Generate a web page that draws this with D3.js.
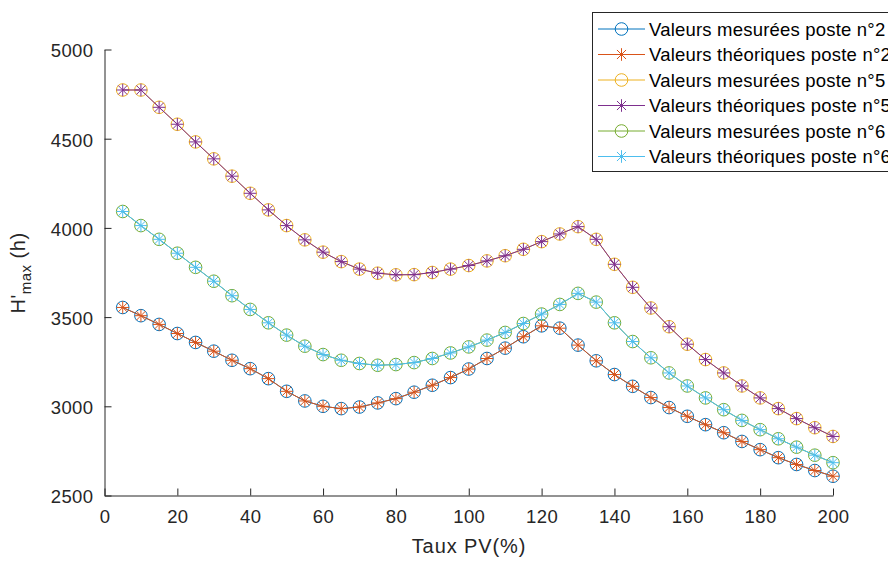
<!DOCTYPE html>
<html><head><meta charset="utf-8">
<script src="https://cdn.jsdelivr.net/npm/d3@7"></script>
<style>body{margin:0;background:#fff}svg{display:block}</style>
</head><body>
<svg id="c" width="888" height="562"></svg>
<script>
const tauxPV = d3.range(5, 201, 5);
const poste2 = [3554,3508,3459,3408,3358,3309,3258,3211,3155,3084,3030,3000,2987,2996,3019,3043,3079,3118,3161,3209,3268,3326,3390,3451,3438,3343,3255,3178,3112,3049,2993,2944,2897,2852,2803,2757,2712,2674,2640,2608];
const poste5 = [4773,4773,4676,4581,4482,4387,4290,4194,4101,4013,3933,3864,3811,3769,3746,3737,3738,3750,3769,3789,3815,3844,3880,3923,3966,4007,3936,3796,3667,3551,3446,3348,3262,3187,3114,3047,2987,2931,2880,2831];
const poste6 = [4092,4013,3936,3858,3779,3701,3620,3543,3468,3399,3337,3290,3258,3240,3230,3234,3245,3268,3299,3333,3371,3414,3464,3517,3571,3633,3584,3468,3363,3272,3187,3114,3047,2981,2921,2869,2818,2771,2726,2684];
const seriesNames = ["Valeurs mesurées poste n°2","Valeurs théoriques poste n°2","Valeurs mesurées poste n°5","Valeurs théoriques poste n°5","Valeurs mesurées poste n°6","Valeurs théoriques poste n°6"];
const seriesValues = [poste2, poste2, poste5, poste5, poste6, poste6];
const seriesMarkers = ["o","*","o","*","o","*"];
const colors = ["#0072BD","#D95319","#EDB120","#7E2F8E","#77AC30","#4DBEEE"];
const xTicks = d3.range(0, 201, 20);
const yTicks = [2500,3000,3500,4000,4500,5000];

const svg = d3.select("#c");
const L = 104.5, R = 833, T = 49.5, B = 495.5;
const x = d3.scaleLinear().domain([0,200]).range([L,R]);
const y = d3.scaleLinear().domain([2500,5000]).range([B,T]);
const font = "'Liberation Sans', Arial, Helvetica, sans-serif";
const txt = "#262626";

// axes
const gx = svg.append("g").attr("transform",`translate(0,${B})`)
  .call(d3.axisBottom(x).tickValues(xTicks).tickFormat(d3.format("d")).tickSizeInner(-7).tickSizeOuter(0).tickPadding(14));
const gy = svg.append("g").attr("transform",`translate(${L},0)`)
  .call(d3.axisLeft(y).tickValues(yTicks).tickFormat(d3.format("d")).tickSizeInner(-7).tickSizeOuter(0).tickPadding(11));
[gx,gy].forEach(g=>{
  g.attr("font-size",null).attr("font-family",null);
  g.select(".domain").attr("stroke",txt).attr("stroke-width",1);
  g.selectAll(".tick line").attr("stroke",txt).attr("stroke-width",1);
  g.selectAll(".tick text").attr("fill",txt).style("font-family",font).style("font-size","18.5px").style("letter-spacing","0.4px");
});
gx.selectAll(".tick text").attr("dy","0.71em");
gy.selectAll(".tick text").attr("dy","0.4em");

function drawMarker(g, type, cx, cy, color, r){
  if(type==="o"){
    g.append("circle").attr("cx",cx).attr("cy",cy).attr("r",r).attr("fill","none").attr("stroke",color).attr("stroke-width",1);
  } else {
    const d = r, dd = r*0.72;
    const p = `M${cx-d},${cy}L${cx+d},${cy}M${cx},${cy-d}L${cx},${cy+d}M${cx-dd},${cy-dd}L${cx+dd},${cy+dd}M${cx-dd},${cy+dd}L${cx+dd},${cy-dd}`;
    g.append("path").attr("d",p).attr("stroke",color).attr("stroke-width",1).attr("fill","none");
  }
}

const line = d3.line().x((d,i)=>x(tauxPV[i])).y(d=>y(d));
seriesValues.forEach((vals,k)=>{
  const g = svg.append("g");
  g.append("path").datum(vals).attr("d",line).attr("fill","none").attr("stroke",colors[k]).attr("stroke-width",1);
  vals.forEach((v,i)=>drawMarker(g, seriesMarkers[k], x(tauxPV[i]), y(v), colors[k], 6.3));
});

// axis labels
svg.append("text").attr("x",469).attr("y",553).attr("text-anchor","middle")
  .attr("fill",txt).style("font-family",font).style("font-size","20px").style("letter-spacing","0.9px").text("Taux PV(%)");
const yl = svg.append("text").attr("transform",`translate(25,273) rotate(-90)`).attr("text-anchor","middle")
  .attr("fill",txt).style("font-family",font).style("font-size","20px").style("letter-spacing","0.5px");
yl.append("tspan").text("H'");
yl.append("tspan").attr("dy","6").style("font-size","15px").text("max");
yl.append("tspan").attr("dy","-6").text(" (h)");

// legend
const lg = svg.append("g");
lg.append("rect").attr("x",592.5).attr("y",12.5).attr("width",320).attr("height",159)
  .attr("fill","#fff").attr("stroke",txt).attr("stroke-width",1);
seriesNames.forEach((name,k)=>{
  const ly = 29 + k*25.5;
  lg.append("line").attr("x1",598).attr("x2",645).attr("y1",ly).attr("y2",ly).attr("stroke",colors[k]).attr("stroke-width",1);
  drawMarker(lg, seriesMarkers[k], 621.5, ly, colors[k], 6.3);
  lg.append("text").attr("x",649).attr("y",ly).attr("dy","0.36em").attr("fill","#000")
    .style("font-family",font).style("font-size","18.5px").style("letter-spacing","0.2px").text(name);
});
</script>
</body></html>
